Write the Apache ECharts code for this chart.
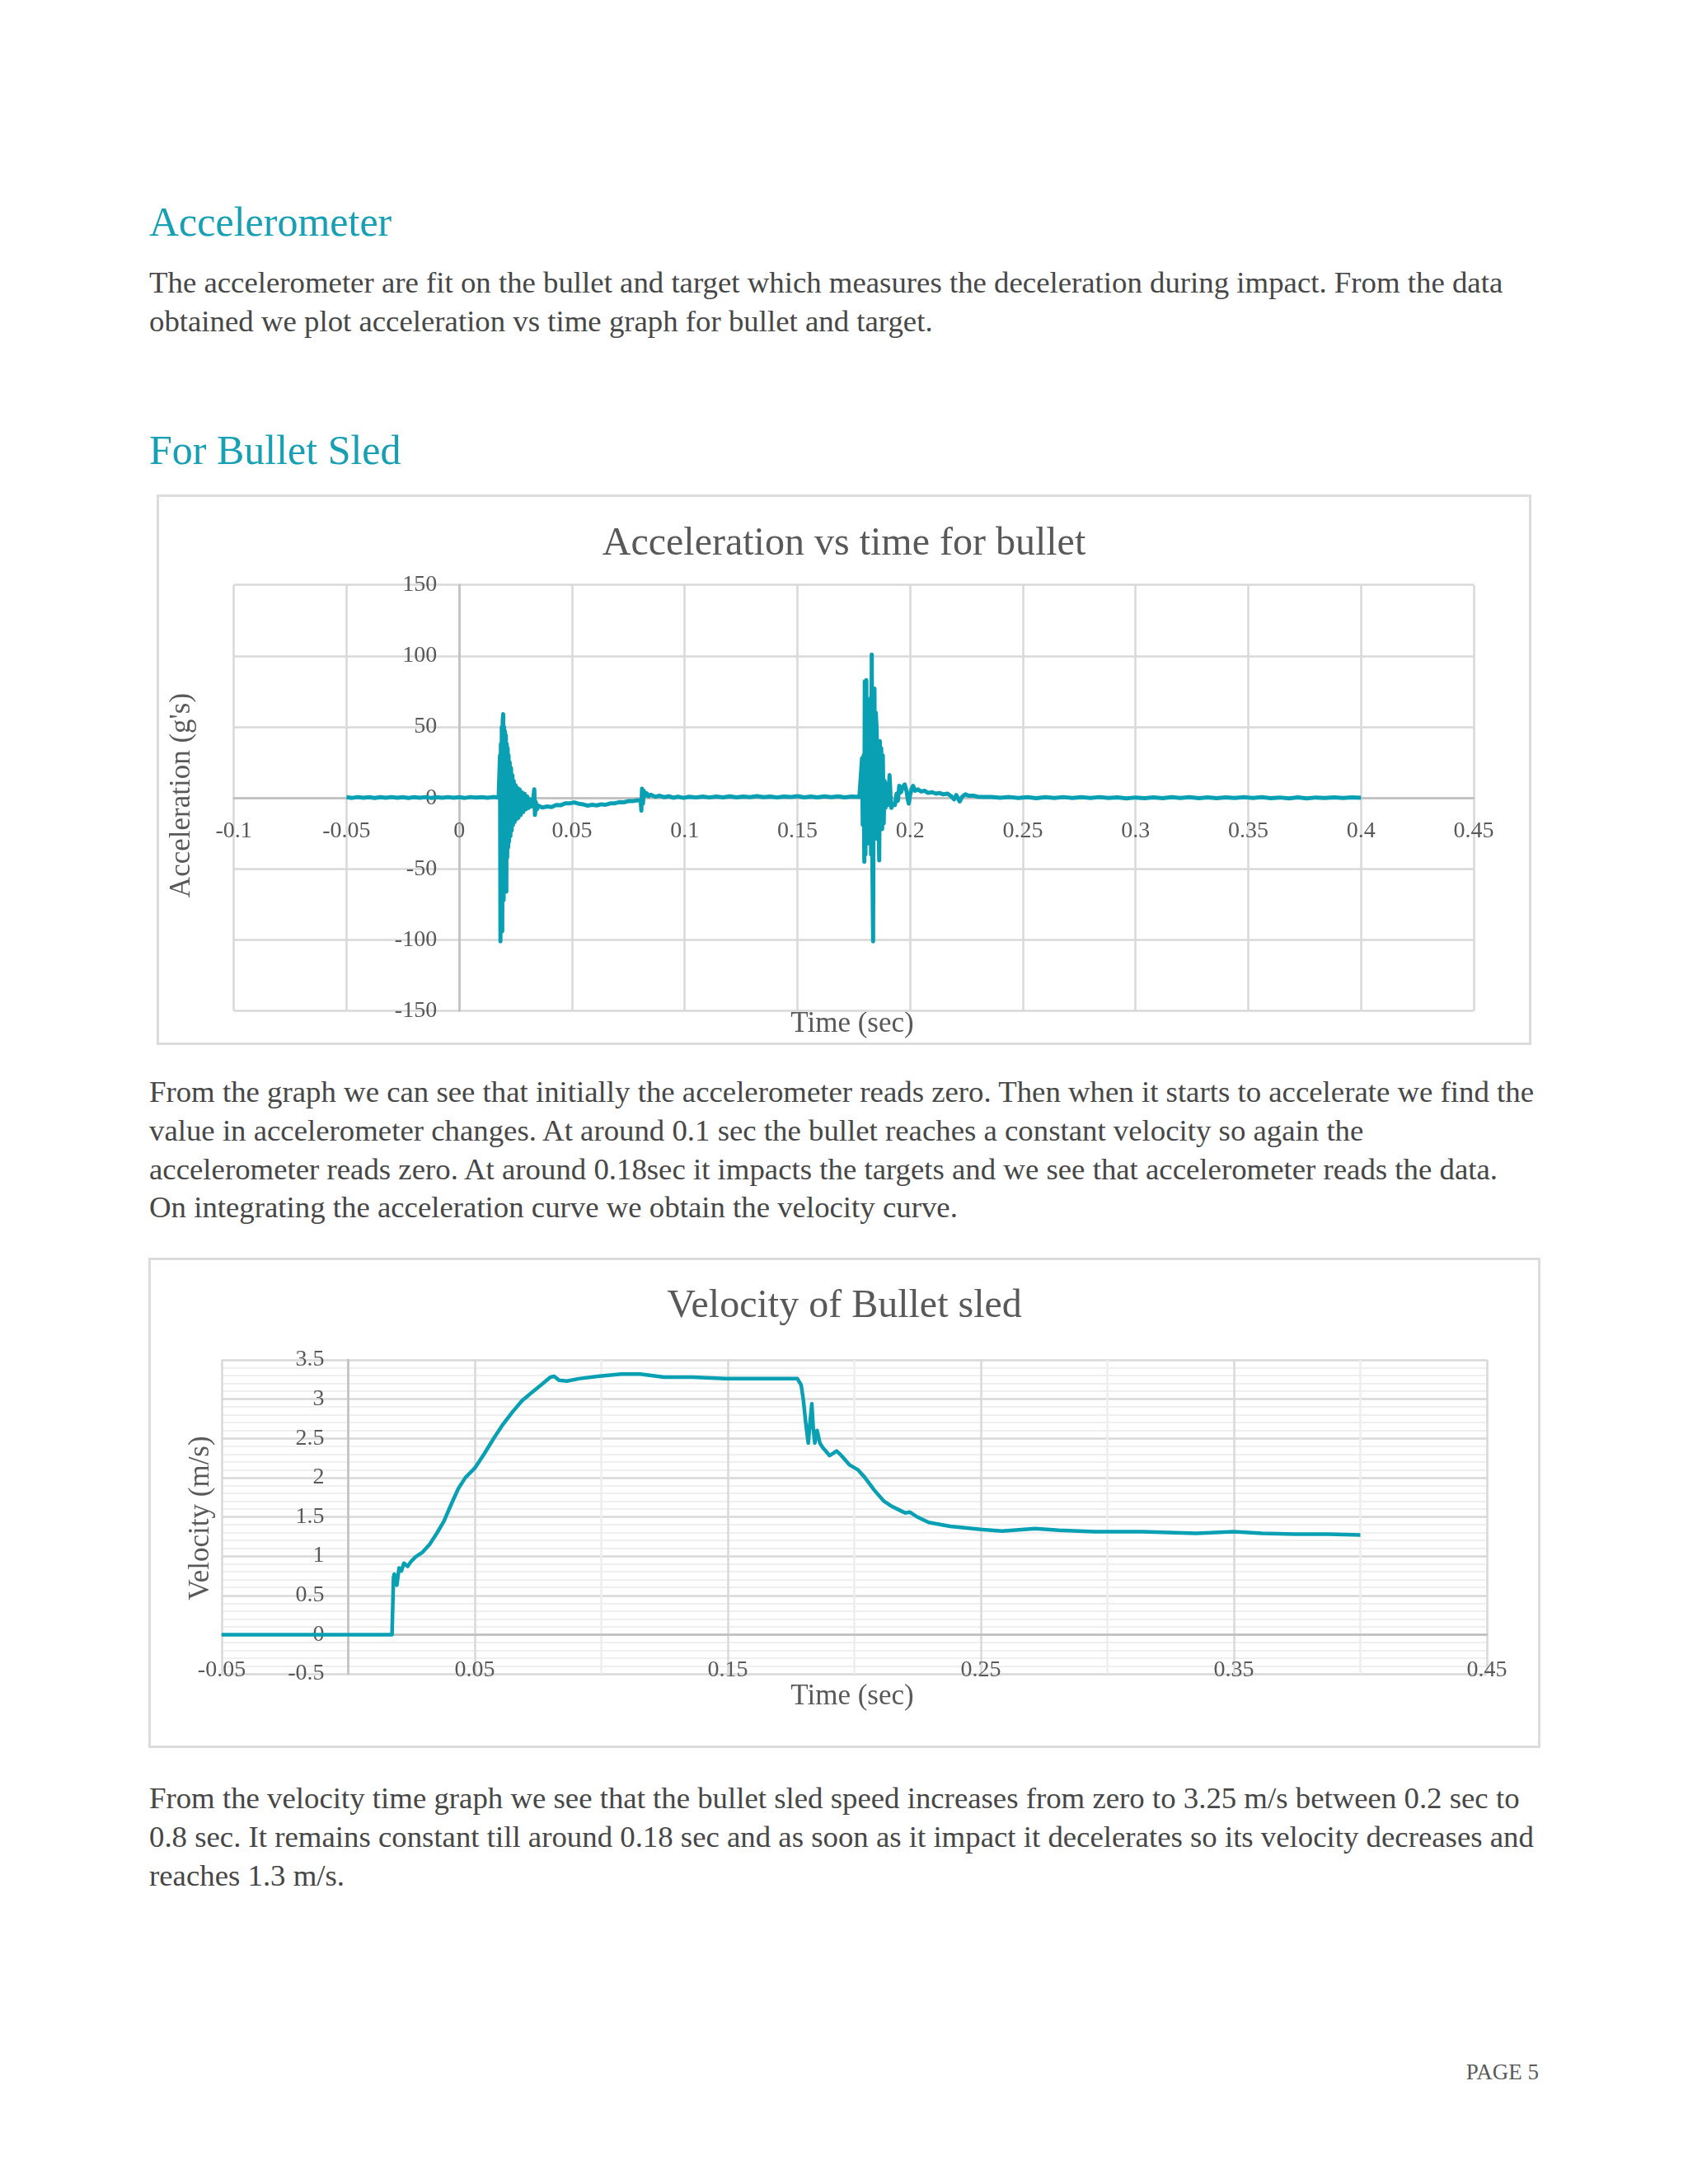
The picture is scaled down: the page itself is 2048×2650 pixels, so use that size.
<!DOCTYPE html>
<html>
<head>
<meta charset="utf-8">
<script src="https://cdn.jsdelivr.net/npm/echarts/dist/echarts.min.js"></script>
<style>
  html, body { margin: 0; padding: 0; background: #ffffff; }
  #page { position: relative; width: 2048px; height: 2650px; background: #ffffff; overflow: hidden;
          font-family: "Liberation Serif", "Times New Roman", serif; }
  .h { position: absolute; left: 181px; font-size: 50px; line-height: 60px; color: #179fb3; white-space: nowrap; }
  .p { position: absolute; left: 181px; font-size: 36.8px; line-height: 46.8px; color: #474747; white-space: nowrap; }
  .box { position: absolute; box-sizing: border-box; border: 3px solid #dcdcdc; }
  .chart { position: absolute; }
  #pg { position: absolute; right: 181px; top: 2498px; font-size: 27px; line-height: 32px; color: #5a5a5a; }
</style>
</head>
<body>
<div id="page">
  <div class="h" style="top:239px">Accelerometer</div>
  <div class="p" style="top:320px">The accelerometer are fit on the bullet and target which measures the deceleration during impact. From the data<br>obtained we plot acceleration vs time graph for bullet and target.</div>
  <div class="h" style="top:516px">For Bullet Sled</div>

  <div class="box" style="left:190px;top:600px;width:1668px;height:668px"></div>
  <div id="c1" class="chart" style="left:191px;top:601px;width:1666px;height:666px"></div>

  <div class="p" style="top:1302px">From the graph we can see that initially the accelerometer reads zero. Then when it starts to accelerate we find the<br>value in accelerometer changes. At around 0.1 sec the bullet reaches a constant velocity so again the<br>accelerometer reads zero. At around 0.18sec it impacts the targets and we see that accelerometer reads the data.<br>On integrating the acceleration curve we obtain the velocity curve.</div>

  <div class="box" style="left:180px;top:1526px;width:1689px;height:595px"></div>
  <div id="c2" class="chart" style="left:181px;top:1527px;width:1687px;height:593px"></div>

  <div class="p" style="top:2159px">From the velocity time graph we see that the bullet sled speed increases from zero to 3.25 m/s between 0.2 sec to<br>0.8 sec. It remains constant till around 0.18 sec and as soon as it impact it decelerates so its velocity decreases and<br>reaches 1.3 m/s.</div>

  <div id="pg">PAGE 5</div>
</div>
<script>
// ---------- Acceleration vs time for bullet : [time (sec), acceleration (g's)] ----------
const accelPre = [[-0.05,0.5],[-0.0475,0.0],[-0.045,0.6],[-0.0425,0.1],[-0.04,0.5],[-0.0375,0.0],[-0.035,0.5],[-0.0325,0.1],[-0.03,0.6],[-0.0275,0.1],[-0.025,0.5],[-0.0225,0.0],[-0.02,0.5],[-0.0175,0.1],[-0.015,0.6],[-0.0125,0.0],[-0.01,0.5],[-0.0075,0.1],[-0.005,0.6],[-0.0025,0.1],[0,0.5],[0.0025,0.0],[0.005,0.6],[0.0075,0.2],[0.01,0.5],[0.0125,0.1],[0.015,0.6],[0.0175,0.3]];
const accelImpact1 = [[0.0179,0],[0.0181,30],[0.0183,-101],[0.0185,38],[0.0187,-82],[0.0189,50],[0.0191,-94],[0.0193,54],[0.0195,59],[0.0197,-72],[0.0199,50],[0.0201,-64],[0.0203,47],[0.0205,-58],[0.0207,44],[0.0209,-66],[0.0211,38],[0.0213,-42],[0.0215,35],[0.0217,-35],[0.0219,30],[0.0221,-31],[0.0224,25],[0.0227,-27],[0.0230,21],[0.0233,-23],[0.0236,16],[0.0239,-19],[0.0242,12],[0.0246,-17],[0.0250,9],[0.0254,-15],[0.0258,7],[0.0263,-14],[0.0268,6],[0.0273,-12],[0.0278,4],[0.0284,-10],[0.0290,3],[0.0296,-8],[0.0302,1],[0.0308,-7],[0.0315,-1],[0.0322,-6],[0.0328,-2],[0.0333,6],[0.0336,-12],[0.0340,-3],[0.0345,-8]];
const accelCruise = [[0.035,-5.5],[0.037,-6.8],[0.039,-6.0],[0.041,-6.4],[0.043,-5.0],[0.045,-5.2],[0.047,-3.8],[0.049,-3.9],[0.051,-3.2],[0.053,-4.1],[0.055,-4.6],[0.057,-5.4],[0.059,-4.9],[0.061,-5.3],[0.063,-4.5],[0.065,-4.8],[0.067,-3.9],[0.069,-3.8],[0.071,-3.0],[0.073,-3.1],[0.075,-2.3],[0.077,-2.3],[0.079,-1.7],[0.0805,-2.0],[0.0808,-9.0],[0.0811,6.5],[0.0815,-4.0],[0.0819,5.0],[0.0825,1.5],[0.0832,3.2],[0.084,1.2],[0.085,2.2],[0.087,0.8],[0.089,1.5],[0.091,0.5],[0.093,1.1],[0.095,0.1],[0.097,0.9],[0.0995,0.0],[0.102,0.8],[0.105,0.3],[0.108,1.0],[0.111,0.3],[0.114,0.9],[0.117,0.4],[0.120,1.1],[0.123,0.4],[0.126,1.0],[0.129,0.5],[0.132,1.2],[0.135,0.5],[0.138,0.9],[0.141,0.3],[0.144,1.0],[0.147,0.6],[0.150,1.2],[0.153,0.4],[0.156,0.9],[0.159,0.4],[0.162,1.1],[0.165,0.5],[0.168,1.1],[0.171,0.4],[0.174,1.0],[0.1775,0.6]];
const accelImpact2 = [[0.1780,1.0],[0.1787,28],[0.1790,-19],[0.1794,30],[0.1797,-45],[0.1799,82],[0.1802,-40],[0.1806,83],[0.1809,-30],[0.1812,60],[0.1814,-32],[0.1817,57],[0.1820,-30],[0.1824,70],[0.1827,-40],[0.1830,101],[0.1833,-50],[0.1836,-101],[0.1839,60],[0.1842,77],[0.1845,-27],[0.1848,60],[0.1852,47],[0.1855,-29],[0.1858,40],[0.1861,-20],[0.1863,-44],[0.1866,40],[0.1869,-15],[0.1872,35],[0.1876,-22],[0.1879,30],[0.1883,-18],[0.1887,12],[0.1891,-7],[0.1895,10],[0.1900,-5],[0.1905,5],[0.1909,16],[0.1913,2],[0.1917,-7],[0.1925,-4],[0.1933,-5],[0.1940,3],[0.1946,-2],[0.1952,8.5],[0.1960,4],[0.1968,8],[0.1976,9.5],[0.1984,5],[0.1990,-1],[0.1994,-4],[0.2000,2],[0.2006,6],[0.2013,8.5],[0.2022,5],[0.2035,6],[0.2049,4.5],[0.2065,5],[0.2080,3.5],[0.2098,4],[0.2115,3],[0.2130,3.5],[0.2147,2.5],[0.2165,3],[0.2180,1.5],[0.2195,-1],[0.2205,2],[0.2220,-2.5],[0.2232,1],[0.2245,2.5],[0.2260,1.5],[0.2281,1.6],[0.2300,0.8],[0.2329,0.7]];
const accelPost = [[0.236,0.7],[0.240,0.1],[0.244,0.6],[0.248,0.0],[0.252,0.5],[0.256,-0.2],[0.260,0.5],[0.264,0.0],[0.268,0.6],[0.272,-0.1],[0.276,0.5],[0.280,0.0],[0.284,0.6],[0.288,-0.1],[0.292,0.4],[0.296,-0.3],[0.300,0.3],[0.304,-0.2],[0.308,0.4],[0.312,-0.2],[0.316,0.5],[0.320,0.0],[0.324,0.5],[0.328,-0.2],[0.332,0.4],[0.336,-0.2],[0.340,0.4],[0.344,-0.1],[0.348,0.5],[0.352,0.0],[0.356,0.5],[0.360,-0.2],[0.364,0.3],[0.368,-0.3],[0.372,0.4],[0.376,-0.3],[0.380,0.3],[0.384,-0.1],[0.388,0.4],[0.392,0.0],[0.396,0.4],[0.400,0.1]];

// ---------- Velocity of Bullet sled : [time (sec), velocity (m/s)] ----------
const velocityRest = [[-0.05,0],[-0.02,0],[0,0],[0.0173,0]];
const velocityRise = [[0.0179,0.73],[0.0182,0.77],[0.0192,0.63],[0.0201,0.85],[0.0210,0.81],[0.0220,0.91],[0.0235,0.87],[0.0248,0.93],[0.0266,0.99],[0.0294,1.05],[0.0322,1.15],[0.0350,1.29],[0.0379,1.45],[0.0407,1.66],[0.0435,1.86],[0.0463,2.00],[0.0500,2.12],[0.0537,2.30],[0.0575,2.50],[0.0612,2.68],[0.0650,2.84],[0.0687,2.98],[0.0724,3.08],[0.0762,3.18],[0.0799,3.28],[0.0814,3.29]];
const velocityPlateau = [[0.0833,3.24],[0.0864,3.23],[0.0911,3.26],[0.0986,3.29],[0.1079,3.32],[0.1154,3.32],[0.1248,3.28],[0.1360,3.28],[0.1491,3.26],[0.1640,3.26],[0.1775,3.26]];
const velocityDrop = [[0.1790,3.18],[0.1799,2.98],[0.1808,2.70],[0.1818,2.44],[0.1825,2.70],[0.1832,2.94],[0.1838,2.62],[0.1844,2.44],[0.1853,2.60],[0.1864,2.44],[0.1876,2.38],[0.1887,2.34],[0.1902,2.28],[0.1917,2.31],[0.1930,2.34],[0.1949,2.28],[0.1982,2.16],[0.2014,2.10],[0.2042,2.00],[0.2079,1.84],[0.2117,1.70],[0.2145,1.64],[0.2182,1.58],[0.2201,1.55],[0.2220,1.56],[0.2248,1.50],[0.2294,1.43],[0.2379,1.38]];
const velocityTail = [[0.2500,1.34],[0.2584,1.32],[0.2715,1.35],[0.2808,1.33],[0.2949,1.31],[0.3136,1.31],[0.3351,1.29],[0.3500,1.31],[0.3612,1.29],[0.3743,1.28],[0.3874,1.28],[0.4000,1.27]];

// ---------- Axis ranges ----------
const accelXAxis = { min: -0.1, max: 0.45, interval: 0.05 };
const accelYAxis = { min: -150, max: 150, interval: 50 };
const velXAxis = { min: -0.05, max: 0.45, interval: 0.05 };   // labels on every other tick: -0.05, 0.05 ... 0.45
const velYAxis = { min: -0.5, max: 3.5, interval: 0.5 };

const TEAL = '#0aa0b4';
const FONT = '"Liberation Serif", "Times New Roman", serif';
const TXT = '#595959';

function nameText(x, y, text, rotate) {
  return {
    type: 'text', x: x, y: y, rotation: rotate ? Math.PI / 2 : 0,
    style: { text: text, font: '35px ' + FONT, fill: TXT, textAlign: 'center', textVerticalAlign: 'middle' },
    silent: true
  };
}

// place axes (line + labels) where the other axis is zero, by offsetting them into the grid
function zeroOffsets(w, h, grid, xr, yr) {
  const pw = w - grid.left - grid.right, ph = h - grid.top - grid.bottom;
  return {
    x: -ph * (0 - yr.min) / (yr.max - yr.min),
    y: -pw * (0 - xr.min) / (xr.max - xr.min)
  };
}

// ---------- Chart 1 ----------
const g1 = { left: 92.6, right: 69, top: 108.7, bottom: 40.4 };
const o1 = zeroOffsets(1666, 666, g1, accelXAxis, accelYAxis);
const c1 = echarts.init(document.getElementById('c1'), null, { renderer: 'canvas' });
c1.setOption({
  animation: false,
  title: { text: 'Acceleration vs time for bullet', left: 'center', top: 30,
           textStyle: { fontFamily: FONT, fontSize: 48, fontWeight: 'normal', color: TXT } },
  grid: Object.assign({ containLabel: false, outerBoundsMode: 'none' }, g1),
  xAxis: {
    type: 'value', position: 'bottom', offset: o1.x,
    min: accelXAxis.min, max: accelXAxis.max, interval: accelXAxis.interval,
    axisLine: { show: true, onZero: false, lineStyle: { color: '#bfbfbf', width: 2.5 } },
    axisTick: { show: false },
    axisLabel: { margin: 26, fontFamily: FONT, fontSize: 28, color: TXT },
    splitLine: { show: true, lineStyle: { color: '#d9d9d9', width: 2.5 } }
  },
  yAxis: {
    type: 'value', position: 'left', offset: o1.y,
    min: accelYAxis.min, max: accelYAxis.max, interval: accelYAxis.interval,
    axisLine: { show: true, onZero: false, lineStyle: { color: '#bfbfbf', width: 2.5 } },
    axisTick: { show: false },
    axisLabel: { margin: 27, fontFamily: FONT, fontSize: 28, color: TXT },
    splitLine: { show: true, lineStyle: { color: '#d9d9d9', width: 2.5 } }
  },
  graphic: [
    nameText(30, 364, "Acceleration (g's)", true),
    nameText(843, 642, 'Time (sec)', false)
  ],
  series: [{
    type: 'line', showSymbol: false, symbol: 'none', smooth: false,
    data: [].concat(accelPre, accelImpact1, accelCruise, accelImpact2, accelPost),
    lineStyle: { color: TEAL, width: 5, join: 'round' }
  }]
});

// ---------- Chart 2 ----------
const g2 = { left: 88, right: 64, top: 123, bottom: 89 };
const o2 = zeroOffsets(1687, 593, g2, velXAxis, velYAxis);
const c2 = echarts.init(document.getElementById('c2'), null, { renderer: 'canvas' });
c2.setOption({
  animation: false,
  title: { text: 'Velocity of Bullet sled', left: 'center', top: 29,
           textStyle: { fontFamily: FONT, fontSize: 48, fontWeight: 'normal', color: TXT } },
  grid: Object.assign({ containLabel: false, outerBoundsMode: 'none' }, g2),
  xAxis: {
    type: 'value', position: 'bottom', offset: o2.x,
    min: velXAxis.min, max: velXAxis.max, interval: velXAxis.interval,
    axisLine: { show: true, onZero: false, lineStyle: { color: '#bfbfbf', width: 2.5 } },
    axisTick: { show: false },
    axisLabel: { margin: 29, fontFamily: FONT, fontSize: 28, color: TXT,
      formatter: function (v) { const k = Math.round(v * 100); return (k % 10 === 0) ? '' : String(k / 100); } },
    splitLine: { show: true, lineStyle: { color: ['#d9d9d9', '#eeeeee'], width: 2.5 } }
  },
  yAxis: {
    type: 'value', position: 'left', offset: o2.y,
    min: velYAxis.min, max: velYAxis.max, interval: velYAxis.interval,
    axisLine: { show: true, onZero: false, lineStyle: { color: '#bfbfbf', width: 2.5 } },
    axisTick: { show: false },
    minorTick: { show: false, splitNumber: 5 },
    axisLabel: { margin: 29, fontFamily: FONT, fontSize: 28, color: TXT },
    splitLine: { show: true, lineStyle: { color: '#d9d9d9', width: 2.5 } },
    minorSplitLine: { show: true, lineStyle: { color: '#efefef', width: 2 } }
  },
  graphic: [
    nameText(63, 315, 'Velocity (m/s)', true),
    nameText(853, 532, 'Time (sec)', false)
  ],
  series: [{
    type: 'line', showSymbol: false, symbol: 'none', smooth: false,
    data: [].concat(velocityRest, velocityRise, velocityPlateau, velocityDrop, velocityTail),
    lineStyle: { color: TEAL, width: 4.5, join: 'round' }
  }]
});
</script>
</body>
</html>
